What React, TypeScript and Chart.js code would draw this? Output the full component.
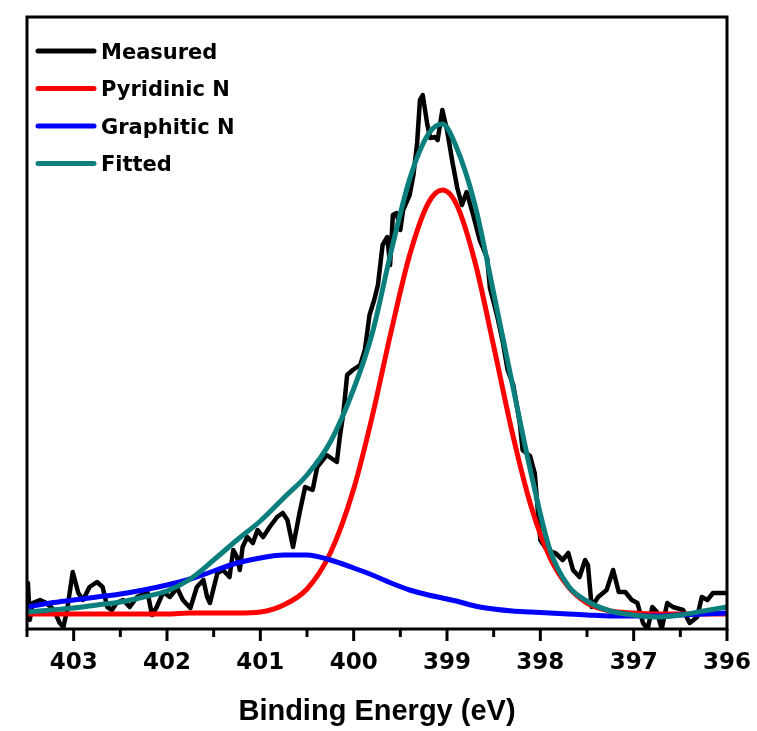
import React, { useEffect, useRef } from "react";
import { Chart, registerables } from "chart.js";

Chart.register(...registerables);

// ---- Data (binding energy in eV, intensity in arbitrary units) ----
const FIT_ENERGY = [403.5, 403.25, 403, 402.75, 402.5, 402.25, 402, 401.75, 401.5, 401.25, 401, 400.75, 400.5, 400.25, 400, 399.8, 399.6, 399.4, 399.2, 399.05, 398.9, 398.7, 398.5, 398.3, 398.1, 397.9, 397.7, 397.5, 397.25, 397, 396.75, 396.5, 396.25, 396];
const PYRIDINIC_N = [15, 15, 15, 15, 15, 15, 15, 16, 16, 16, 17, 24, 40, 76, 140, 213, 297, 374, 426, 439, 425, 367, 283, 196, 123, 72, 42, 26, 18, 16, 15, 15, 15, 15];
const GRAPHITIC_N = [22, 26, 29, 32, 35, 39, 44, 50, 58, 66, 71, 74, 74, 69, 61, 54, 46, 39, 34, 31, 28, 23, 20, 18, 17, 16, 15, 14, 13, 13, 13, 14, 15, 16];
const FITTED = [17, 19, 21, 24, 27, 32, 38, 50, 69, 89, 108, 131, 154, 187, 240, 296, 377, 450, 495, 505, 482, 424, 336, 245, 156, 80, 43, 28, 18, 14, 12, 14, 18, 22];

const MEASURED_ENERGY = [
  403.49, 403.47, 403.44, 403.36, 403.29, 403.21, 403.15, 403.11, 403.07, 403.01,
  402.95, 402.9, 402.83, 402.75, 402.69, 402.64, 402.59, 402.54, 402.47, 402.4,
  402.32, 402.21, 402.16, 402.11, 402.04, 401.97, 401.89, 401.83, 401.75, 401.68,
  401.61, 401.57, 401.54, 401.46, 401.4, 401.33, 401.29, 401.25, 401.22, 401.19,
  401.14, 401.08, 401.03, 400.97, 400.9, 400.82, 400.76, 400.71, 400.65, 400.58,
  400.52, 400.44, 400.39, 400.29, 400.18, 400.15, 400.11, 400.07, 400.01, 399.93,
  399.88, 399.83, 399.78, 399.74, 399.69, 399.64, 399.61, 399.58, 399.54, 399.5,
  399.47, 399.4, 399.36, 399.32, 399.29, 399.26, 399.21, 399.18, 399.13, 399.1,
  399.05, 399.0, 398.94, 398.89, 398.84, 398.79, 398.72, 398.65, 398.57, 398.54,
  398.46, 398.4, 398.35, 398.29, 398.22, 398.19, 398.11, 398.06, 398.03, 398.0,
  397.93, 397.84, 397.76, 397.7, 397.65, 397.58, 397.52, 397.49, 397.45, 397.38,
  397.29, 397.22, 397.16, 397.09, 397.02, 396.96, 396.9, 396.85, 396.8, 396.75,
  396.7, 396.64, 396.58, 396.47, 396.4, 396.32, 396.27, 396.21, 396.15, 396.04, 396.0,
];
const MEASURED = [
  46, 9, 26, 29, 26, 19, 6, 2, 19, 57,
  36, 29, 42, 47, 42, 22, 19, 26, 29, 22,
  32, 37, 14, 22, 37, 32, 41, 29, 21, 42,
  49, 32, 26, 56, 59, 52, 79, 72, 59, 82,
  92, 86, 99, 92, 102, 112, 116, 109, 82, 116,
  142, 139, 162, 174, 167, 191, 216, 254, 259, 264,
  279, 314, 329, 344, 384, 392, 364, 414, 416, 399,
  419, 434, 454, 486, 529, 534, 504, 491, 492, 489,
  519, 499, 466, 441, 424, 437, 414, 389, 371, 341,
  312, 286, 259, 244, 206, 179, 173, 156, 122, 89,
  79, 76, 69, 76, 59, 52, 69, 64, 22, 32,
  39, 59, 37, 37, 29, 26, 6, 0, 22, 17,
  0, 26, 22, 19, 6, 12, 32, 29, 36, 36, 36,
];

const SERIES_LABELS = ["Measured", "Pyridinic N", "Graphitic N", "Fitted"];
const SERIES_COLORS = ["#000000", "#ff0000", "#0000ff", "#0b7f7d"];

const TICK_VALUES = [403, 402, 401, 400, 399, 398, 397, 396];
const TICK_LABELS = ["403", "402", "401", "400", "399", "398", "397", "396"];
const MINOR_TICK_VALUES = [403.5, 402.5, 401.5, 400.5, 399.5, 398.5, 397.5, 396.5];
const X_TITLE = "Binding Energy (eV)";
const X_MIN = 396;
const X_MAX = 403.5;
const Y_MIN = 0;
const Y_MAX = 612;

const toPoints = (xs: number[], ys: number[]) => xs.map((x, i) => ({ x, y: ys[i] }));

const framePlugin = {
  id: "frameAndLegend",
  beforeDraw(chart: any) {
    const { ctx, width, height } = chart;
    ctx.save();
    ctx.fillStyle = "#ffffff";
    ctx.fillRect(0, 0, width, height);
    ctx.restore();
  },
  afterDraw(chart: any) {
    const { ctx, chartArea: a } = chart;
    const xs = chart.scales.x;
    ctx.save();
    ctx.strokeStyle = "#000";
    ctx.lineWidth = 3;
    ctx.strokeRect(a.left, a.top, a.right - a.left, a.bottom - a.top);
    ctx.beginPath();
    TICK_VALUES.forEach((v) => {
      const px = xs.getPixelForValue(v);
      ctx.moveTo(px, a.bottom);
      ctx.lineTo(px, a.bottom + 12);
    });
    MINOR_TICK_VALUES.forEach((v) => {
      const px = xs.getPixelForValue(v);
      ctx.moveTo(px, a.bottom);
      ctx.lineTo(px, a.bottom + 8);
    });
    ctx.stroke();

    const ds = chart.data.datasets;
    ctx.font = 'bold 21px "DejaVu Sans"';
    ctx.textBaseline = "alphabetic";
    ctx.textAlign = "left";
    ds.forEach((d: any, i: number) => {
      const y = a.top + 34 + i * 37.5;
      ctx.beginPath();
      ctx.strokeStyle = d.borderColor;
      ctx.lineWidth = 5;
      ctx.lineCap = "round";
      ctx.moveTo(a.left + 11, y);
      ctx.lineTo(a.left + 67, y);
      ctx.stroke();
      ctx.fillStyle = "#000";
      ctx.fillText(d.label, a.left + 74, y + 7.5);
    });
    ctx.restore();
  },
};

export default function App() {
  const ref = useRef<HTMLCanvasElement | null>(null);

  useEffect(() => {
    if (!ref.current) return;
    const lineBase = { pointRadius: 0, borderJoinStyle: "round", borderCapStyle: "round" };
    const chart = new Chart(ref.current, {
      type: "line",
      data: {
        datasets: [
          {
            ...lineBase,
            label: SERIES_LABELS[0],
            data: toPoints(MEASURED_ENERGY, MEASURED),
            borderColor: SERIES_COLORS[0],
            backgroundColor: SERIES_COLORS[0],
            borderWidth: 4.5,
            tension: 0,
            order: 3,
          },
          {
            ...lineBase,
            label: SERIES_LABELS[1],
            data: toPoints(FIT_ENERGY, PYRIDINIC_N),
            borderColor: SERIES_COLORS[1],
            backgroundColor: SERIES_COLORS[1],
            borderWidth: 5,
            cubicInterpolationMode: "monotone",
            order: 2,
          },
          {
            ...lineBase,
            label: SERIES_LABELS[2],
            data: toPoints(FIT_ENERGY, GRAPHITIC_N),
            borderColor: SERIES_COLORS[2],
            backgroundColor: SERIES_COLORS[2],
            borderWidth: 5,
            cubicInterpolationMode: "monotone",
            order: 1,
          },
          {
            ...lineBase,
            label: SERIES_LABELS[3],
            data: toPoints(FIT_ENERGY, FITTED),
            borderColor: SERIES_COLORS[3],
            backgroundColor: SERIES_COLORS[3],
            borderWidth: 5,
            cubicInterpolationMode: "monotone",
            order: 0,
          },
        ],
      },
      options: {
        animation: false,
        responsive: false,
        devicePixelRatio: 1,
        layout: { padding: { left: 27, right: 30, top: 17, bottom: 0 } },
        plugins: { legend: { display: false }, tooltip: { enabled: false } },
        scales: {
          x: {
            type: "linear",
            reverse: true,
            min: X_MIN,
            max: X_MAX,
            afterBuildTicks: (s: any) => {
              s.ticks = TICK_VALUES.map((value) => ({ value }));
            },
            afterFit: (s: any) => {
              s.height = 102;
              s.paddingLeft = 0;
              s.paddingRight = 0;
            },
            grid: { display: false, drawTicks: false },
            border: { display: false },
            ticks: {
              color: "#000",
              padding: 20,
              maxRotation: 0,
              autoSkip: false,
              font: { family: '"DejaVu Sans"', size: 23, weight: "bold" },
              callback: (v: any) => {
                const i = TICK_VALUES.indexOf(Number(v));
                return i >= 0 ? TICK_LABELS[i] : "";
              },
            },
            title: {
              display: true,
              text: X_TITLE,
              color: "#000",
              font: { family: 'Arial, "Liberation Sans", sans-serif', size: 29, weight: "bold" },
              padding: { top: 0, bottom: 2 },
            },
          },
          y: {
            display: false,
            min: Y_MIN,
            max: Y_MAX,
          },
        },
      },
      plugins: [framePlugin],
    } as any);
    return () => chart.destroy();
  }, []);

  return (
    <div style={{ position: "absolute", left: 0, top: 0, width: 757, height: 731, background: "#fff" }}>
      <canvas ref={ref} width={757} height={731} style={{ display: "block" }} />
    </div>
  );
}
